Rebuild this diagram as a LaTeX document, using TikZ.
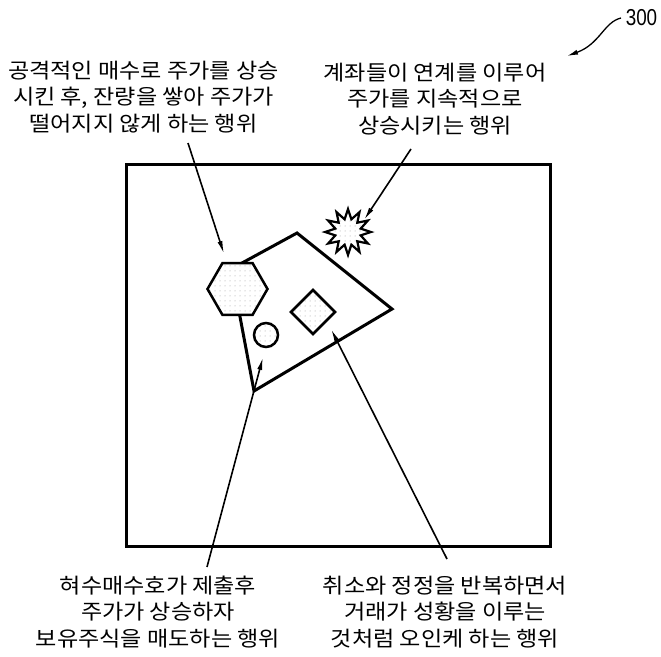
\documentclass[tikz,border=0pt]{standalone}
\usepackage{fontspec}
\newfontfamily\kr[FakeStretch=1.1]{Noto Sans CJK KR}
\newfontfamily\numfont{Liberation Sans}
\usetikzlibrary{shapes.geometric,patterns.meta,arrows.meta}
\tikzdeclarepattern{
  name=mydots,
  type=uncolored,
  bounding box={(-2.5pt,-2.5pt) and (2.5pt,2.5pt)},
  tile size={(5pt,5pt)},
  code={\fill (0pt,0pt) circle (0.5pt);}
}
\tikzset{
  frame/.style={line width=3pt, line join=miter},
  shp/.style={draw, line width=2.5pt, preaction={fill=white}, pattern={mydots}, pattern color=black!40, inner sep=0pt, outer sep=0pt},
  lbl/.style={font=\kr\fontsize{21}{26.5}\selectfont, align=center, inner sep=0pt},
  ptr/.style={line width=1.6pt, -{Latex[length=13pt,width=5pt]}}
}
\begin{document}
\begin{tikzpicture}[x=1pt,y=-1pt]
\useasboundingbox (0,0) rectangle (661,656);
% frame
\draw[frame] (126,164) rectangle (550,546);
% quadrilateral
\draw[frame] (297,233) -- (392,309) -- (254,391) -- (231,269) -- cycle;
% shapes
\node[shp, regular polygon, regular polygon sides=6, minimum size=60pt] (hex) at (237.5,289) {};
\node[shp, circle, minimum size=24pt] (circ) at (266,335) {};
\node[shp, diamond, minimum width=44pt, minimum height=44pt] (dia) at (313,312) {};
\node[shp, star, star points=12, star point ratio=1.75, minimum size=46pt, line width=2.2pt] (burst) at (348,232) {};
% labels
\node[lbl] (tl) at (143.5,97) {공격적인 매수로 주가를 상승\\시킨 후, 잔량을 쌓아 주가가\\떨어지지 않게 하는 행위};
\node[lbl] (tr) at (435,99) {계좌들이 연계를 이루어\\주가를 지속적으로\\상승시키는 행위};
\node[lbl] (bl) at (158,612) {혀수매수호가 제출후\\주가가 상승하자\\보유주식을 매도하는 행위};
\node[lbl] (br) at (445,612) {취소와 정정을 반복하면서\\거래가 성황을 이루는\\것처럼 오인케 하는 행위};
\node[inner sep=0pt] (num) at (641.5,18) {\scalebox{0.82}[1]{\numfont\fontsize{23}{23}\selectfont 300}};
% connector end points
\coordinate (a1s) at (188,143);
\coordinate (a1e) at (224,254);
\coordinate (a2s) at (411,149);
\coordinate (a2e) at (364,220);
\coordinate (a3s) at (207,567);
\coordinate (a3e) at (263,357);
\coordinate (a4s) at (447,559);
\coordinate (a4e) at (331,329);
\coordinate (n1) at (621,18);
\coordinate (n2) at (567,56);
% arrows
\draw[ptr] (a1s) -- (a1e);
\draw[ptr] (a2s) -- (a2e);
\draw[ptr] (a3s) -- (a3e);
\draw[ptr] (a4s) -- (a4e);
\draw[line width=1.3pt, -{Latex[length=11pt,width=5pt]}] (n1) .. controls (604,22) and (600,44) .. (n2);
\end{tikzpicture}
\end{document}
